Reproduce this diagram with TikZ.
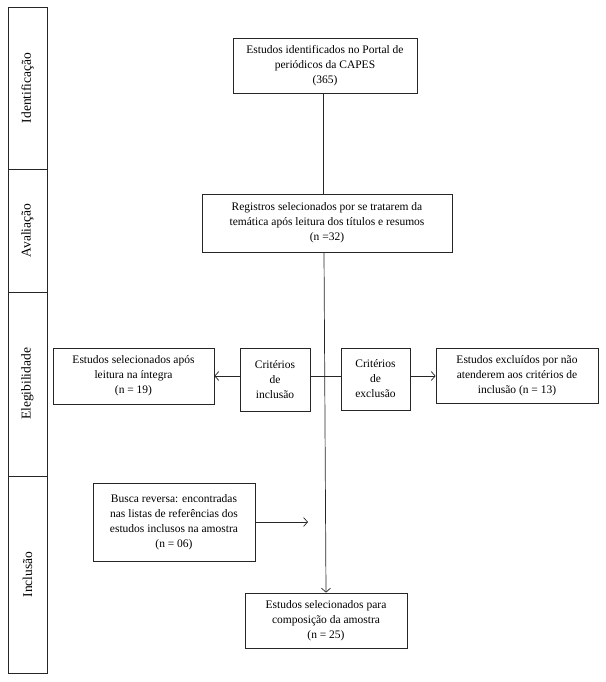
\documentclass[tikz,border=0pt]{standalone}
\usepackage{fontspec}
\setmainfont{Liberation Serif}
\usetikzlibrary{arrows.meta}
\begin{document}
\begin{tikzpicture}[x=1pt,y=-1pt,
  box/.style={draw=black!85, line width=0.7pt, align=center, inner sep=1pt, font=\fontsize{11.5}{15}\selectfont},
  phase/.style={draw=black!85, line width=0.7pt, rotate=90, minimum height=39pt, inner sep=0pt, font=\fontsize{13.5}{15}\selectfont},
  conn/.style={draw=black!85, line width=0.7pt},
  arr/.style={conn, -{Straight Barb[length=4pt,width=9pt]}}]
\useasboundingbox (0,0) rectangle (605,682);
% phase column
\node[phase, minimum width=162pt] (pid) at (27.5,88) {Identificação};
\node[phase, minimum width=123pt] (pav) at (27.5,230.5) {Avaliação};
\node[phase, minimum width=184pt] (pel) at (27.5,384) {Elegibilidade};
\node[phase, minimum width=197pt] (pin) at (27.5,574.5) {Inclusão};
% boxes
\node[box, minimum width=184pt, minimum height=55pt] (top) at (325,65.5)
  {Estudos identificados no Portal de\\ periódicos da CAPES\\ (365)};
\node[box, minimum width=250pt, minimum height=58pt] (reg) at (327,223)
  {Registros selecionados por se tratarem da\\ temática após leitura dos títulos e resumos\\ (n =32)};
\node[box, minimum width=161pt, minimum height=56pt] (sel) at (133.5,376)
  {Estudos selecionados após\\ leitura na íntegra\\ (n = 19)};
\node[box, minimum width=70pt, minimum height=63pt] (inc) at (275,379.5)
  {Critérios\\ de\\ inclusão};
\node[box, minimum width=69pt, minimum height=62pt] (exc) at (375.5,379)
  {Critérios\\ de\\ exclusão};
\node[box, minimum width=162pt, minimum height=55pt] (excl) at (517,375.5)
  {Estudos excluídos por não\\ atenderem aos critérios de\\ inclusão (n = 13)};
\node[box, minimum width=162pt, minimum height=78pt] (busca) at (174,522)
  {Busca reversa: encontradas\\ nas listas de referências dos\\ estudos inclusos na amostra\\ (n = 06)};
\node[box, minimum width=162pt, minimum height=55pt] (fin) at (326,620.5)
  {Estudos selecionados para\\ composição da amostra\\ (n = 25)};
\coordinate (bend) at (308,522);
% connectors
\draw[conn] (top.south -| 323,0) -- (reg.north -| 323,0);
\draw[arr] (reg.south -| 324,0) -- (fin.north -| 326,0);
\draw[conn] (inc.east |- 0,376) -- (exc.west |- 0,376);
\draw[arr] (inc.west |- 0,376) -- (sel.east |- 0,376);
\draw[arr] (exc.east |- 0,376) -- (excl.west |- 0,376);
\draw[arr] (busca.east) -- (bend);
\end{tikzpicture}
\end{document}
